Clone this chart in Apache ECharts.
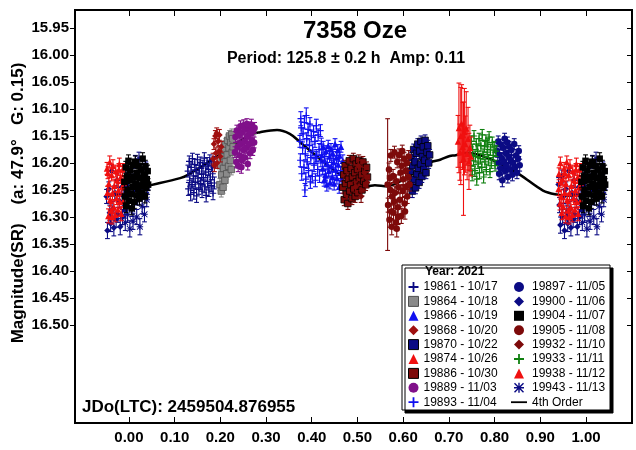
<!DOCTYPE html>
<html><head><meta charset="utf-8">
<script src="https://cdn.jsdelivr.net/npm/echarts@6/dist/echarts.min.js"></script>
<style>html,body{margin:0;padding:0;background:#fff}#c{width:636px;height:450px}</style>
</head><body><div id="c"></div>
<script>
// ---- tick labels ----
const xTicks = [0.00, 0.10, 0.20, 0.30, 0.40, 0.50, 0.60, 0.70, 0.80, 0.90, 1.00];
const yTicks = [15.95, 16.00, 16.05, 16.10, 16.15, 16.20, 16.25, 16.30, 16.35, 16.40, 16.45, 16.50];

// ---- sessions: [phase, magnitude, error] ----
const s19861 = [[0.129,16.215,0.011],[0.130,16.248,0.012],[0.132,16.197,0.010],[0.133,16.232,0.011],[0.135,16.258,0.012],[0.136,16.208,0.010],[0.138,16.240,0.011],[0.139,16.192,0.010],[0.141,16.224,0.011],[0.142,16.255,0.012],[0.144,16.203,0.010],[0.145,16.236,0.011],[0.147,16.214,0.010],[0.148,16.261,0.012],[0.150,16.194,0.010],[0.151,16.228,0.011],[0.153,16.246,0.012],[0.154,16.210,0.010],[0.156,16.199,0.010],[0.157,16.238,0.011],[0.159,16.221,0.011],[0.160,16.252,0.012],[0.162,16.205,0.010],[0.163,16.230,0.011],[0.165,16.191,0.010],[0.166,16.244,0.011],[0.168,16.217,0.010],[0.169,16.260,0.012],[0.171,16.200,0.010],[0.172,16.234,0.011],[0.174,16.212,0.010],[0.175,16.250,0.012],[0.177,16.195,0.010],[0.178,16.226,0.011],[0.180,16.242,0.011],[0.181,16.206,0.010],[0.183,16.220,0.011],[0.184,16.256,0.012],[0.186,16.198,0.010],[0.187,16.237,0.011]];
const s19864 = [[0.199,16.240,0.011],[0.200,16.205,0.010],[0.202,16.252,0.011],[0.203,16.222,0.010],[0.204,16.188,0.010],[0.206,16.245,0.011],[0.207,16.210,0.010],[0.208,16.176,0.010],[0.210,16.232,0.011],[0.211,16.198,0.010],[0.212,16.165,0.010],[0.214,16.220,0.010],[0.215,16.185,0.010],[0.216,16.158,0.010],[0.218,16.206,0.010],[0.219,16.172,0.010],[0.220,16.150,0.010],[0.222,16.195,0.010],[0.223,16.162,0.010],[0.224,16.212,0.010],[0.225,16.147,0.010],[0.226,16.180,0.010],[0.227,16.155,0.010],[0.228,16.170,0.010]];
const s19866 = [[0.422,16.185,0.011],[0.424,16.210,0.011],[0.425,16.170,0.010],[0.427,16.232,0.011],[0.428,16.195,0.011],[0.430,16.222,0.011],[0.431,16.178,0.010],[0.433,16.240,0.012],[0.434,16.202,0.011],[0.436,16.168,0.010],[0.437,16.215,0.011],[0.439,16.188,0.011],[0.440,16.236,0.012],[0.442,16.174,0.010],[0.443,16.206,0.011],[0.445,16.226,0.011],[0.446,16.182,0.010],[0.448,16.198,0.011],[0.449,16.238,0.012],[0.451,16.165,0.010],[0.452,16.212,0.011],[0.454,16.190,0.011],[0.455,16.228,0.011],[0.457,16.176,0.010],[0.458,16.203,0.011],[0.460,16.244,0.012],[0.461,16.186,0.011],[0.463,16.218,0.011],[0.464,16.170,0.010],[0.466,16.230,0.011],[0.468,16.196,0.011],[0.470,16.210,0.011]];
const s19868 = [[0.184,16.192,0.010],[0.186,16.165,0.010],[0.187,16.205,0.011],[0.189,16.150,0.010],[0.190,16.182,0.010],[0.192,16.145,0.010],[0.193,16.200,0.010],[0.195,16.160,0.010],[0.197,16.178,0.010],[0.198,16.148,0.010],[0.200,16.188,0.010],[0.202,16.170,0.010]];
const s19870 = [[0.615,16.215,0.011],[0.617,16.240,0.011],[0.618,16.190,0.010],[0.620,16.252,0.012],[0.621,16.205,0.011],[0.623,16.175,0.010],[0.624,16.230,0.011],[0.626,16.198,0.010],[0.627,16.246,0.011],[0.629,16.182,0.010],[0.630,16.220,0.011],[0.632,16.165,0.010],[0.633,16.210,0.011],[0.635,16.236,0.011],[0.636,16.178,0.010],[0.638,16.202,0.010],[0.639,16.160,0.010],[0.641,16.225,0.011],[0.642,16.188,0.010],[0.644,16.170,0.010],[0.645,16.212,0.011],[0.647,16.195,0.010],[0.648,16.158,0.010],[0.650,16.218,0.011],[0.652,16.180,0.010],[0.654,16.168,0.010],[0.656,16.200,0.010],[0.658,16.185,0.010]];
const s19874 = [[0.940,16.248,0.012],[0.941,16.220,0.011],[0.943,16.275,0.012],[0.944,16.200,0.011],[0.946,16.262,0.012],[0.947,16.292,0.013],[0.949,16.230,0.011],[0.950,16.280,0.012],[0.952,16.210,0.011],[0.953,16.255,0.012],[0.955,16.298,0.013],[0.956,16.238,0.012],[0.958,16.198,0.011],[0.959,16.268,0.012],[0.961,16.288,0.013],[0.962,16.222,0.011],[0.964,16.256,0.012],[0.965,16.205,0.011],[0.967,16.282,0.012],[0.968,16.242,0.012],[0.970,16.296,0.013],[0.971,16.215,0.011],[0.973,16.265,0.012],[0.974,16.232,0.011],[0.976,16.286,0.013],[0.977,16.250,0.012],[0.979,16.202,0.011],[0.980,16.272,0.012],[0.982,16.226,0.011],[0.983,16.294,0.013],[0.985,16.245,0.012],[0.986,16.212,0.011],[0.988,16.270,0.012],[0.989,16.236,0.011],[0.945,16.235,0.011],[0.954,16.218,0.011],[0.963,16.300,0.013],[0.978,16.212,0.011]];
const s19886 = [[0.468,16.245,0.011],[0.470,16.222,0.010],[0.471,16.268,0.011],[0.473,16.205,0.010],[0.474,16.238,0.010],[0.476,16.258,0.011],[0.477,16.214,0.010],[0.479,16.275,0.011],[0.480,16.230,0.010],[0.482,16.196,0.010],[0.483,16.252,0.011],[0.485,16.240,0.010],[0.486,16.210,0.010],[0.488,16.266,0.011],[0.489,16.226,0.010],[0.491,16.192,0.010],[0.492,16.248,0.011],[0.494,16.218,0.010],[0.495,16.262,0.011],[0.497,16.202,0.010],[0.498,16.235,0.010],[0.500,16.212,0.010],[0.501,16.255,0.011],[0.503,16.195,0.010],[0.504,16.228,0.010],[0.506,16.243,0.011],[0.507,16.206,0.010],[0.509,16.222,0.010],[0.510,16.250,0.011],[0.512,16.198,0.010],[0.514,16.234,0.010],[0.516,16.215,0.010],[0.518,16.240,0.011],[0.520,16.208,0.010],[0.522,16.226,0.010]];
const s19889 = [[0.232,16.180,0.010],[0.233,16.152,0.010],[0.235,16.198,0.011],[0.236,16.140,0.010],[0.238,16.170,0.010],[0.239,16.205,0.011],[0.241,16.148,0.010],[0.242,16.186,0.010],[0.244,16.132,0.010],[0.245,16.165,0.010],[0.247,16.195,0.011],[0.248,16.143,0.010],[0.250,16.176,0.010],[0.251,16.130,0.010],[0.253,16.160,0.010],[0.254,16.190,0.011],[0.256,16.138,0.010],[0.257,16.172,0.010],[0.259,16.150,0.010],[0.260,16.202,0.011],[0.262,16.134,0.010],[0.263,16.166,0.010],[0.265,16.182,0.010],[0.266,16.145,0.010],[0.268,16.129,0.010],[0.269,16.158,0.010],[0.271,16.176,0.010],[0.272,16.140,0.010],[0.274,16.162,0.010],[0.275,16.135,0.010],[0.246,16.208,0.011],[0.258,16.128,0.010]];
const s19893 = [[0.374,16.160,0.011],[0.375,16.195,0.012],[0.377,16.135,0.011],[0.378,16.220,0.012],[0.380,16.172,0.011],[0.381,16.146,0.011],[0.383,16.208,0.012],[0.384,16.125,0.012],[0.386,16.183,0.011],[0.387,16.230,0.012],[0.389,16.155,0.011],[0.390,16.198,0.012],[0.392,16.138,0.011],[0.393,16.214,0.012],[0.395,16.168,0.011],[0.396,16.128,0.012],[0.398,16.190,0.011],[0.399,16.150,0.011],[0.401,16.225,0.012],[0.402,16.176,0.011],[0.404,16.142,0.011],[0.405,16.204,0.012],[0.407,16.160,0.011],[0.408,16.232,0.012],[0.410,16.131,0.012],[0.411,16.186,0.011],[0.413,16.212,0.012],[0.414,16.148,0.011],[0.416,16.175,0.011],[0.417,16.224,0.012],[0.419,16.140,0.011],[0.420,16.196,0.011],[0.421,16.165,0.011],[0.376,16.118,0.013],[0.388,16.112,0.014],[0.397,16.235,0.012],[0.409,16.190,0.011],[0.385,16.250,0.012]];
const s19897 = [[0.805,16.178,0.011],[0.807,16.200,0.011],[0.808,16.160,0.010],[0.810,16.220,0.011],[0.811,16.185,0.011],[0.813,16.166,0.010],[0.814,16.210,0.011],[0.816,16.192,0.011],[0.817,16.232,0.012],[0.819,16.172,0.010],[0.820,16.198,0.011],[0.822,16.155,0.010],[0.823,16.215,0.011],[0.825,16.182,0.011],[0.826,16.205,0.011],[0.828,16.162,0.010],[0.829,16.226,0.011],[0.831,16.188,0.011],[0.832,16.170,0.010],[0.834,16.212,0.011],[0.835,16.195,0.011],[0.837,16.176,0.010],[0.839,16.222,0.011],[0.841,16.200,0.011],[0.843,16.165,0.010],[0.845,16.208,0.011],[0.847,16.186,0.011],[0.849,16.218,0.011],[0.851,16.192,0.011],[0.853,16.178,0.010],[0.855,16.204,0.011]];
const s19900 = [[0.940,16.240,0.013],[0.942,16.278,0.014],[0.944,16.315,0.015],[0.947,16.225,0.012],[0.949,16.300,0.014],[0.951,16.262,0.013],[0.953,16.325,0.015],[0.956,16.248,0.013],[0.958,16.292,0.014],[0.960,16.312,0.015],[0.962,16.215,0.012],[0.965,16.285,0.014],[0.967,16.320,0.015],[0.969,16.255,0.013],[0.972,16.305,0.014],[0.974,16.232,0.013],[0.976,16.296,0.014],[0.979,16.270,0.013],[0.981,16.318,0.015],[0.984,16.245,0.013],[0.986,16.300,0.014],[0.989,16.262,0.013],[0.991,16.288,0.014],[0.994,16.240,0.013]];
const s19904 = [[0.990,16.235,0.011],[0.991,16.262,0.012],[0.993,16.208,0.011],[0.994,16.280,0.012],[0.996,16.225,0.011],[0.997,16.250,0.012],[0.999,16.196,0.011],[0.000,16.270,0.012],[0.002,16.232,0.011],[0.003,16.214,0.011],[0.005,16.258,0.012],[0.006,16.284,0.012],[0.008,16.204,0.011],[0.009,16.244,0.011],[0.011,16.226,0.011],[0.012,16.272,0.012],[0.014,16.198,0.011],[0.015,16.238,0.011],[0.017,16.260,0.012],[0.018,16.218,0.011],[0.020,16.248,0.011],[0.021,16.205,0.011],[0.023,16.266,0.012],[0.024,16.228,0.011],[0.026,16.242,0.011],[0.027,16.212,0.011],[0.029,16.255,0.012],[0.030,16.192,0.011],[0.032,16.236,0.011],[0.033,16.222,0.011],[0.035,16.262,0.012],[0.036,16.206,0.011],[0.038,16.246,0.011],[0.039,16.230,0.011],[0.041,16.215,0.011],[0.042,16.240,0.011]];
const s19905 = [[0.566,16.240,0.122],[0.567,16.278,0.013],[0.569,16.212,0.012],[0.570,16.305,0.014],[0.572,16.250,0.012],[0.573,16.186,0.011],[0.575,16.318,0.015],[0.576,16.262,0.013],[0.578,16.224,0.012],[0.579,16.292,0.014],[0.581,16.180,0.011],[0.582,16.255,0.012],[0.584,16.310,0.014],[0.585,16.234,0.012],[0.587,16.198,0.011],[0.588,16.282,0.013],[0.590,16.245,0.012],[0.591,16.185,0.011],[0.593,16.268,0.013],[0.594,16.218,0.012],[0.596,16.298,0.014],[0.597,16.205,0.011],[0.599,16.252,0.012],[0.600,16.230,0.012],[0.602,16.192,0.011],[0.603,16.275,0.013],[0.605,16.215,0.012],[0.606,16.244,0.012],[0.608,16.200,0.011],[0.609,16.262,0.013],[0.611,16.226,0.012],[0.612,16.188,0.011],[0.614,16.240,0.012],[0.571,16.228,0.012],[0.580,16.272,0.013],[0.589,16.300,0.014],[0.598,16.178,0.011],[0.586,16.322,0.015],[0.574,16.290,0.014],[0.604,16.290,0.014]];
const s19932 = [[0.496,16.244,0.010],[0.502,16.205,0.010],[0.508,16.262,0.011],[0.515,16.218,0.010],[0.521,16.236,0.010]];
const s19933 = [[0.746,16.182,0.010],[0.748,16.205,0.010],[0.749,16.160,0.010],[0.751,16.222,0.011],[0.752,16.175,0.010],[0.754,16.196,0.010],[0.755,16.150,0.010],[0.757,16.214,0.011],[0.758,16.188,0.010],[0.760,16.165,0.010],[0.761,16.230,0.011],[0.763,16.178,0.010],[0.764,16.200,0.010],[0.766,16.155,0.010],[0.767,16.218,0.011],[0.769,16.192,0.010],[0.770,16.168,0.010],[0.772,16.208,0.010],[0.773,16.148,0.010],[0.775,16.184,0.010],[0.776,16.226,0.011],[0.778,16.170,0.010],[0.779,16.198,0.010],[0.781,16.158,0.010],[0.782,16.212,0.010],[0.784,16.180,0.010],[0.785,16.165,0.010],[0.787,16.194,0.010],[0.788,16.152,0.010],[0.790,16.216,0.011],[0.791,16.176,0.010],[0.793,16.200,0.010],[0.795,16.162,0.010],[0.797,16.186,0.010],[0.799,16.170,0.010],[0.801,16.205,0.010],[0.803,16.178,0.010]];
const s19938 = [[0.720,16.160,0.048],[0.722,16.135,0.083],[0.724,16.180,0.052],[0.726,16.150,0.090],[0.728,16.127,0.072],[0.730,16.170,0.042],[0.732,16.192,0.105],[0.734,16.142,0.080],[0.736,16.165,0.052],[0.738,16.136,0.068],[0.740,16.183,0.048],[0.742,16.155,0.058],[0.744,16.197,0.052],[0.746,16.172,0.042],[0.748,16.188,0.036],[0.731,16.148,0.060]];
const s19943 = [[0.990,16.275,0.014],[0.992,16.310,0.015],[0.995,16.230,0.013],[0.997,16.296,0.014],[0.999,16.255,0.013],[0.002,16.322,0.015],[0.004,16.215,0.013],[0.007,16.285,0.014],[0.009,16.308,0.015],[0.012,16.240,0.013],[0.014,16.198,0.012],[0.017,16.300,0.014],[0.019,16.265,0.013],[0.022,16.192,0.012],[0.024,16.318,0.015],[0.027,16.250,0.013],[0.029,16.280,0.014],[0.032,16.225,0.013],[0.034,16.295,0.014],[0.037,16.210,0.012],[0.039,16.268,0.013],[0.041,16.245,0.013]];

// 4th order Fourier fit
const fitPhase = [-0.05, 0.00, 0.037, 0.048, 0.112, 0.129, 0.20, 0.265, 0.287, 0.324, 0.352, 0.374, 0.42, 0.47, 0.521, 0.538, 0.565, 0.60, 0.659, 0.681, 0.702, 0.713, 0.74, 0.78, 0.82, 0.856, 0.906, 0.939, 0.96, 1.00, 1.037, 1.048];
const fitMag   = [16.261, 16.255, 16.243, 16.241, 16.228, 16.222, 16.184, 16.148, 16.143, 16.139, 16.146, 16.161, 16.194, 16.226, 16.243, 16.241, 16.243, 16.231, 16.199, 16.194, 16.187, 16.186, 16.181, 16.189, 16.205, 16.222, 16.251, 16.259, 16.261, 16.255, 16.243, 16.241];

// ---- presentation ----
const PATHS = {
  plus: 'M0,4.1H10V5.9H0Z M4.1,0H5.9V10H4.1Z',
  rect: 'M0,0H10V10H0Z',
  triangle: 'M5,0L10,10H0Z',
  diamond: 'M5,0L10,5L5,10L0,5Z',
  circle: 'M0,5A5,5,0,1,1,10,5A5,5,0,1,1,0,5Z',
  aster: 'M0,4.3H10V5.7H0Z M4.3,0H5.7V10H4.3Z M1,0L10,9L9,10L0,1Z M9,0L10,1L1,10L0,9Z',
  line: 'M0,0H16V1.8H0Z'
};
const NAVY = '#0b0b84', DRED = '#7d0a0a';
const sessions = [
  {name:'19861 - 10/17', data:s19861, color:NAVY, sym:'plus', z:2},
  {name:'19864 - 10/18', data:s19864, color:'#8a8a8a', border:'#505050', sym:'rect', z:2},
  {name:'19866 - 10/19', data:s19866, color:'#1010f0', sym:'triangle', z:2},
  {name:'19868 - 10/20', data:s19868, color:'#a01010', sym:'diamond', z:2},
  {name:'19870 - 10/22', data:s19870, color:NAVY, border:'#000', sym:'rect', z:2},
  {name:'19874 - 10/26', data:s19874, color:'#f01010', sym:'triangle', z:4},
  {name:'19886 - 10/30', data:s19886, color:DRED, border:'#000', sym:'rect', z:2},
  {name:'19889 - 11/03', data:s19889, color:'#80108a', sym:'circle', z:2},
  {name:'19893 - 11/04', data:s19893, color:'#1010f0', sym:'plus', z:2},
  {name:'19897 - 11/05', data:s19897, color:NAVY, sym:'circle', z:2},
  {name:'19900 - 11/06', data:s19900, color:NAVY, sym:'diamond', z:2},
  {name:'19904 - 11/07', data:s19904, color:'#000', sym:'rect', z:4},
  {name:'19905 - 11/08', data:s19905, color:DRED, sym:'circle', z:2},
  {name:'19932 - 11/10', data:s19932, color:DRED, sym:'diamond', z:3},
  {name:'19933 - 11/11', data:s19933, color:'#108010', sym:'plus', z:2},
  {name:'19938 - 11/12', data:s19938, color:'#f01010', sym:'triangle', z:2},
  {name:'19943 - 11/13', data:s19943, color:NAVY, sym:'aster', z:2}
];
const FONT = '"Liberation Sans", Arial, Helvetica, sans-serif';

function wrap(arr){
  const out = [];
  arr.forEach(function(d){
    [-1,0,1].forEach(function(k){
      const x = d[0] + k;
      if (x >= -0.05 && x <= 1.05) out.push([x, d[1], d[2]]);
    });
  });
  return out;
}
function makeRender(s){
  return function(params, api){
    const x = api.value(0), m = api.value(1), e = api.value(2);
    const c = api.coord([x, m]);
    const t = api.coord([x, m - e]);
    const b = api.coord([x, m + e]);
    const hw = 2.4, sz = 6.5;
    const st = {stroke: s.color, lineWidth: 1.1};
    return {type:'group', children:[
      {type:'line', shape:{x1:c[0], y1:t[1], x2:c[0], y2:b[1]}, style:st},
      {type:'line', shape:{x1:c[0]-hw, y1:t[1], x2:c[0]+hw, y2:t[1]}, style:st},
      {type:'line', shape:{x1:c[0]-hw, y1:b[1], x2:c[0]+hw, y2:b[1]}, style:st},
      {type:'path', shape:{pathData:PATHS[s.sym], x:c[0]-sz/2, y:c[1]-sz/2, width:sz, height:sz, layout:'cover'},
       style:{fill:s.color, stroke:s.border || null, lineWidth:s.border ? 0.8 : 0}}
    ]};
  };
}

const series = [{
  name:'4th Order', type:'line', z:1, smooth:0.35, showSymbol:false, symbol:'none',
  data: fitPhase.map(function(p,i){return [p, fitMag[i]];}),
  lineStyle:{color:'#000', width:2.5}, itemStyle:{color:'#000'}, silent:true
}];
sessions.forEach(function(s){
  series.push({
    name:s.name, type:'custom', z:s.z, silent:true,
    itemStyle:{color:s.color, borderColor:s.border || s.color, borderWidth:s.border ? 1 : 0},
    renderItem: makeRender(s),
    encode:{x:0, y:1},
    data: wrap(s.data)
  });
});
function legendItem(s){
  return {name:s.name, icon:'path://' + PATHS[s.sym],
    itemStyle:{color:s.color, borderColor:s.border || s.color, borderWidth:s.border ? 1 : 0}};
}
const col1 = sessions.slice(0,9).map(legendItem);
const col2 = sessions.slice(9).map(legendItem);
col2.push({name:'4th Order', icon:'path://' + PATHS.line, itemStyle:{color:'#000'}});

const legendCommon = {orient:'vertical', top:281, itemWidth:10, itemHeight:10, itemGap:2.4,
  selectedMode:false, padding:0,
  textStyle:{fontFamily:FONT, fontSize:12, color:'#000', lineHeight:12}};

const Y_MIN = 15.9167, Y_MAX = 16.6815, X_MIN = -0.118, X_MAX = 1.1007;
const chart = echarts.init(document.getElementById('c'), null, {renderer:'canvas', devicePixelRatio:1});
chart.setOption({
  animation:false,
  backgroundColor:'#fff',
  grid:{left:75, right:4, top:10, bottom:27, show:true, borderColor:'#000', borderWidth:2, backgroundColor:'transparent'},
  xAxis:[{
    type:'value', min:X_MIN, max:X_MAX, position:'bottom',
    axisLine:{show:false, onZero:false}, splitLine:{show:false},
    axisTick:{show:true, inside:true, length:6, customValues:xTicks, lineStyle:{color:'#000', width:1}},
    axisLabel:{show:true, customValues:xTicks, margin:7, formatter:function(v){return v.toFixed(2);},
      fontFamily:FONT, fontSize:15, fontWeight:'bold', color:'#000'}
  },{
    type:'value', min:X_MIN, max:X_MAX, position:'top',
    axisLine:{show:false, onZero:false}, splitLine:{show:false},
    axisTick:{show:true, inside:true, length:6, customValues:xTicks, lineStyle:{color:'#000', width:1}},
    axisLabel:{show:false}
  }],
  yAxis:[{
    type:'value', inverse:true, min:Y_MIN, max:Y_MAX, position:'left',
    axisLine:{show:false, onZero:false}, splitLine:{show:false},
    axisTick:{show:true, inside:false, length:5, customValues:yTicks, lineStyle:{color:'#000', width:1}},
    axisLabel:{show:true, customValues:yTicks, margin:6, formatter:function(v){return v.toFixed(2);},
      fontFamily:FONT, fontSize:15, fontWeight:'bold', color:'#000'}
  },{
    type:'value', inverse:true, min:Y_MIN, max:Y_MAX, position:'right',
    axisLine:{show:false, onZero:false}, splitLine:{show:false},
    axisTick:{show:true, inside:true, length:5, customValues:yTicks, lineStyle:{color:'#000', width:1}},
    axisLabel:{show:false}
  }],
  legend:[
    Object.assign({left:408, data:col1}, legendCommon),
    Object.assign({}, legendCommon, {left:511, itemWidth:16, data:col2})
  ],
  graphic:[
    {type:'rect', z:0, shape:{x:402, y:265, width:208, height:145},
     style:{fill:'#fff', stroke:'#000', lineWidth:1, shadowColor:'#000', shadowOffsetX:3, shadowOffsetY:3, shadowBlur:0}},
    {type:'text', z:5, x:425, y:272, style:{text:'Year: 2021', font:'bold 12px ' + FONT, fill:'#000', align:'left', verticalAlign:'middle'}},
    {type:'text', z:5, x:355, y:31, style:{text:'7358 Oze', font:'bold 24px ' + FONT, fill:'#000', align:'center', verticalAlign:'middle'}},
    {type:'text', z:5, x:346, y:59, style:{text:'Period: 125.8 \u00b1 0.2 h  Amp: 0.11', font:'bold 16px ' + FONT, fill:'#000', align:'center', verticalAlign:'middle'}},
    {type:'text', z:5, x:82, y:407, style:{text:'JDo(LTC): 2459504.876955', font:'bold 17px ' + FONT, fill:'#000', align:'left', verticalAlign:'middle'}},
    {type:'text', z:5, x:18, y:203, rotation:Math.PI/2, style:{text:'Magnitude(SR)    (a: 47.9\u00b0   G: 0.15)', font:'bold 17px ' + FONT, fill:'#000', align:'center', verticalAlign:'middle'}}
  ],
  series: series
});
</script>
</body></html>
